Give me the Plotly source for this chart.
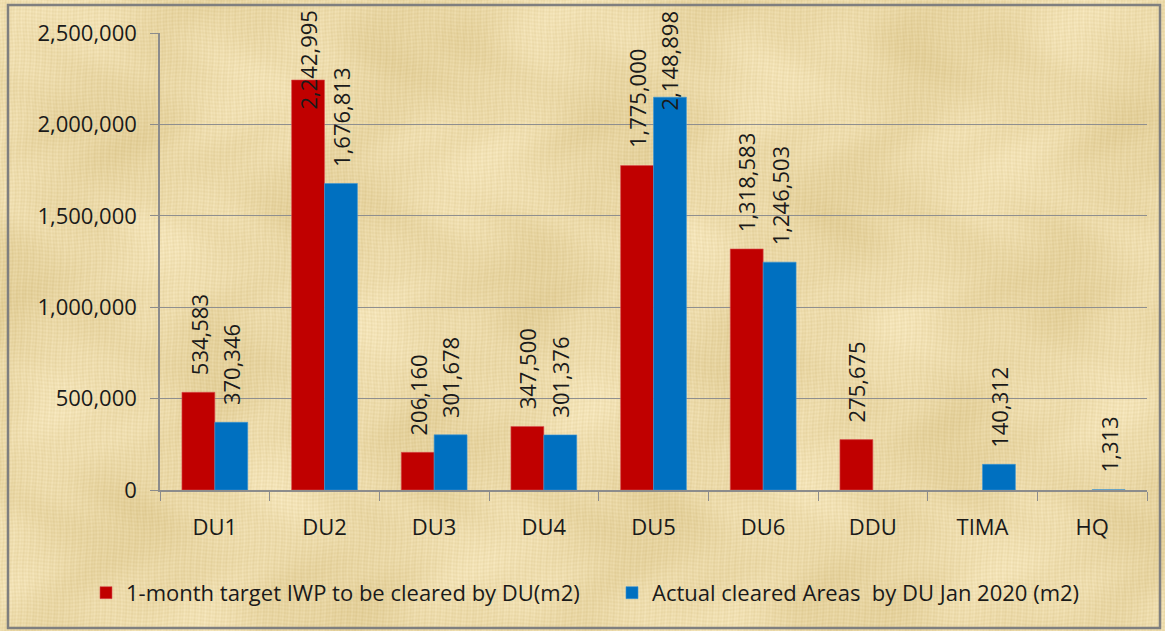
import base64
import struct
import zlib

import numpy as np
import plotly.graph_objects as go

categories = ["DU1", "DU2", "DU3", "DU4", "DU5", "DU6", "DDU", "TIMA", "HQ"]
target_name = "1-month target IWP to be cleared by DU(m2)"
actual_name = "Actual cleared Areas  by DU Jan 2020 (m2)"
target_values = [534583, 2242995, 206160, 347500, 1775000, 1318583, 275675, None, None]
actual_values = [370346, 1676813, 301678, 301376, 2148898, 1246503, None, 140312, 1313]
y_ticks = [0, 500000, 1000000, 1500000, 2000000, 2500000]
Y_MAX = 2500000

FONT = "Open Sans"
FS = 22
W, H = 1165, 631
ML, MR, MT, MB = 160, 18, 33, 141
PW, PH = W - ML - MR, H - MT - MB
BARGAP = 0.4


# ---------- decorative papyrus-like background (deterministic pattern) ----------
def papyrus_png(w, h):
    yy, xx = np.mgrid[0:h, 0:w].astype(float)
    low = (4 * np.sin(xx / 41 + yy / 67) + 3.5 * np.sin(xx / 83 - yy / 31 + 1.3)
           + 3 * np.sin(xx / 17 + 2 * np.sin(yy / 23)) * np.sin(yy / 29))
    fine = (3 * np.sin(xx * 2.1 + 2 * np.sin(yy / 11))
            + 3 * np.sin(yy * 1.7 + 2 * np.sin(xx / 13))
            + 2 * np.sin(xx * 0.9 + yy * 0.05))
    t = low + fine
    r = np.clip(235 + 0.8 * t, 0, 255)
    g = np.clip(217 + 1.0 * t, 0, 255)
    b = np.clip(168 + 1.5 * t, 0, 255)
    img = np.stack([r, g, b], axis=-1).astype(np.uint8)
    raw = b"".join(b"\x00" + img[i].tobytes() for i in range(h))

    def chunk(tag, data):
        c = struct.pack(">I", len(data)) + tag + data
        return c + struct.pack(">I", zlib.crc32(tag + data) & 0xFFFFFFFF)

    png = (b"\x89PNG\r\n\x1a\n"
           + chunk(b"IHDR", struct.pack(">IIBBBBB", w, h, 8, 2, 0, 0, 0))
           + chunk(b"IDAT", zlib.compress(raw, 9))
           + chunk(b"IEND", b""))
    return "data:image/png;base64," + base64.b64encode(png).decode()


fig = go.Figure()
fig.add_trace(go.Bar(
    x=categories, y=target_values, name=target_name, legend="legend",
    marker=dict(color="#C00000", line=dict(color="#D65050", width=0.6)),
    cliponaxis=False,
))
fig.add_trace(go.Bar(
    x=categories, y=actual_values, name=actual_name, legend="legend2",
    marker=dict(color="#0070C0", line=dict(color="#3D95D5", width=0.6)),
    cliponaxis=False,
))

# value labels (rotated), placed above each bar; labels that would leave the
# chart are pushed down to its top edge, as the original chart does
cat_w = PW / len(categories)
bar_w = cat_w * (1 - BARGAP) / 2
label_len = lambda s: len(s) * 11.6
for values, sign in ((target_values, -1), (actual_values, 1)):
    for cat, v in zip(categories, values):
        if v is None:
            continue
        s = f"{v:,}"
        top_px = MT + PH * (1 - v / Y_MAX) - 15 - label_len(s)
        common = dict(x=cat, text=s, textangle=-90, showarrow=False,
                      xshift=sign * bar_w / 2,
                      font=dict(family=FONT, size=FS, color="#1a1a1a"))
        if top_px >= 10:
            fig.add_annotation(y=v, yref="y", yanchor="bottom", yshift=15, **common)
        else:
            fig.add_annotation(y=1 + (MT - 9) / PH, yref="paper", yanchor="top", **common)

legend_common = dict(orientation="h", y=-0.225, yanchor="middle", xanchor="left",
                     font=dict(family=FONT, size=FS, color="#1a1a1a"),
                     bgcolor="rgba(0,0,0,0)", itemwidth=30)
fig.update_layout(
    width=W, height=H,
    margin=dict(l=ML, r=MR, t=MT, b=MB),
    paper_bgcolor="#EAD6A6",
    plot_bgcolor="rgba(0,0,0,0)",
    barmode="group", bargap=BARGAP, bargroupgap=0,
    font=dict(family=FONT, size=FS, color="#1a1a1a"),
    showlegend=True,
    legend=dict(x=(86 - ML) / PW, **legend_common),
    legend2=dict(x=(612 - ML) / PW, **legend_common),
    images=[dict(source=papyrus_png(W, H), xref="paper", yref="paper",
                 x=-ML / PW, y=1 + MT / PH, sizex=W / PW, sizey=H / PH,
                 xanchor="left", yanchor="top", sizing="stretch", layer="below")],
)
fig.update_xaxes(
    type="category", showline=True, linecolor="#8c8c8c", linewidth=1.5,
    ticks="outside", tickson="boundaries", ticklen=9, tickcolor="#8c8c8c",
    showgrid=False, tickfont=dict(family=FONT, size=FS), ticklabelstandoff=17,
)
fig.update_yaxes(
    range=[0, Y_MAX], tickvals=y_ticks, tickformat=",d",
    showline=True, linecolor="#8c8c8c", linewidth=1.5,
    ticks="outside", ticklen=8, tickcolor="#8c8c8c",
    showgrid=True, gridcolor="#8f8f8f", gridwidth=1.3, zeroline=False,
    tickfont=dict(family=FONT, size=FS), ticklabelstandoff=9,
)
# outer border of the chart
fig.add_shape(type="rect", xref="paper", yref="paper",
              x0=(8 - ML) / PW, x1=(1160 - ML) / PW,
              y0=(MT + PH - 628) / PH, y1=(MT + PH - 5) / PH,
              line=dict(color="#7f7f7f", width=2.5), fillcolor="rgba(0,0,0,0)", layer="above")

fig.write_html("out.html", config={"displayModeBar": False},
               post_script="document.body.style.margin='0';document.body.style.overflow='hidden';")
